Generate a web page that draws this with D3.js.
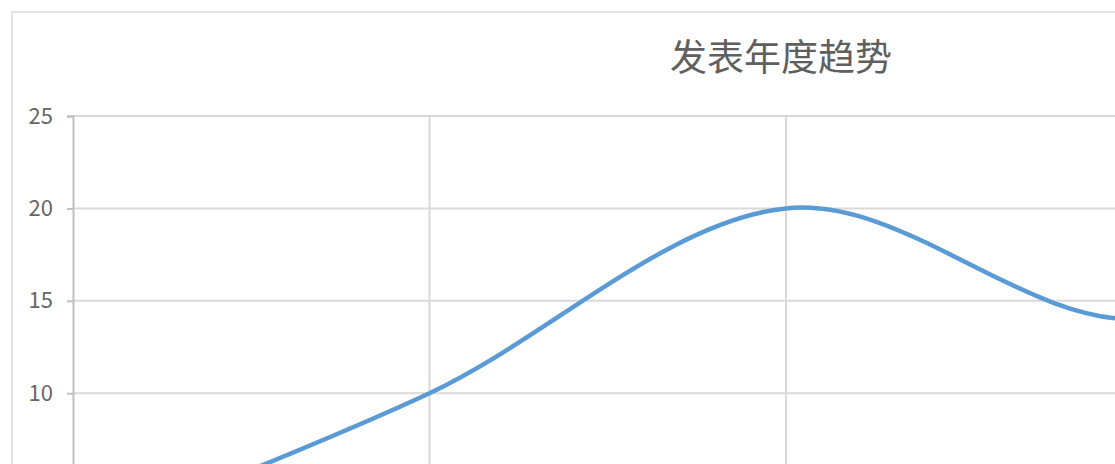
<!DOCTYPE html>
<html><head><meta charset="utf-8">
<script src="https://cdn.jsdelivr.net/npm/d3@7"></script>
<style>html,body{margin:0;padding:0;overflow:hidden;background:#fff;width:1115px;height:464px}</style>
</head><body>
<script>
const title = "发表年度趋势";
const categories = ["2019", "2020", "2021", "2022", "2023"];
const counts = [2, 10, 20, 14, 22];
const yTicks = [0, 5, 10, 15, 20, 25];

const W = 1560, H = 700;
const svg = d3.select("body").append("svg").attr("width", W).attr("height", H);
svg.append("rect").attr("x", 12).attr("y", 12).attr("width", 1538).attr("height", 670)
  .attr("fill", "#fff").attr("stroke", "#d9d9d9").attr("stroke-width", 1.5);

const x = d3.scalePoint().domain(categories).range([73, 1499]);
const y = d3.scaleLinear().domain([0, 25]).range([578, 116]);

// horizontal gridlines
svg.append("g").selectAll("line").data(yTicks).join("line")
  .attr("x1", 73).attr("x2", 1499).attr("y1", d => y(d)).attr("y2", d => y(d))
  .attr("stroke", "#d9d9d9").attr("stroke-width", 2);
// vertical gridlines
svg.append("g").selectAll("line").data(categories.slice(1)).join("line")
  .attr("x1", d => x(d)).attr("x2", d => x(d)).attr("y1", 116).attr("y2", 578)
  .attr("stroke", "#d9d9d9").attr("stroke-width", 2);

const fontFam = "'Noto Sans CJK SC', 'Noto Sans', sans-serif";

// y axis
const yAxis = d3.axisLeft(y).tickValues(yTicks).tickSize(6).tickPadding(14);
const gy = svg.append("g").attr("transform", "translate(73,0)").call(yAxis);
gy.select(".domain").attr("stroke", "#bfbfbf").attr("stroke-width", 2);
gy.selectAll(".tick line").attr("stroke", "#bfbfbf").attr("stroke-width", 2);
gy.selectAll(".tick text").attr("fill", "#666666")
  .style("font-family", fontFam).style("font-size", "22px");

// x axis
const gx = svg.append("g").attr("transform", "translate(0,578)").call(d3.axisBottom(x).tickSize(6).tickPadding(10));
gx.select(".domain").attr("stroke", "#bfbfbf").attr("stroke-width", 2);
gx.selectAll(".tick line").attr("stroke", "#bfbfbf").attr("stroke-width", 2);
gx.selectAll(".tick text").attr("fill", "#666666")
  .style("font-family", fontFam).style("font-size", "22px");

// line
const line = d3.line().x((d, i) => x(categories[i])).y(d => y(d)).curve(d3.curveCardinal.tension(0));
svg.append("path").datum(counts).attr("d", line)
  .attr("fill", "none").attr("stroke", "#5b9bd5").attr("stroke-width", 4.5).attr("stroke-linecap", "round");

// title
svg.append("text").attr("x", 781).attr("y", 71).attr("text-anchor", "middle")
  .attr("fill", "#5f5f5f").style("font-family", fontFam).style("font-size", "37px")
  .text(title);
</script>
</body></html>
